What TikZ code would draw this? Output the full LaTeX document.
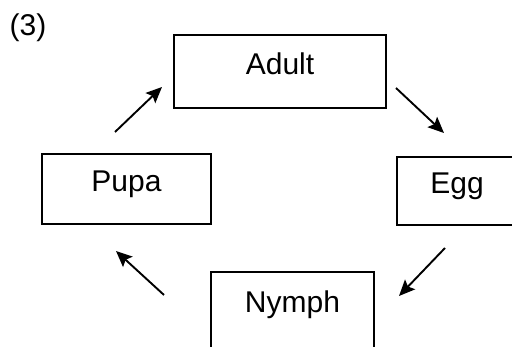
\documentclass[tikz,border=0pt]{standalone}
\usepackage{fontspec}
\setmainfont{Liberation Sans}
\usetikzlibrary{arrows.meta}
\begin{document}
\begin{tikzpicture}[x=1pt,y=-1pt,
  stagebox/.style={draw=black,line width=1.8pt,inner sep=0pt,
    font=\fontsize{30}{34}\selectfont,text height=22pt,text depth=16pt},
  cyclearrow/.style={line width=1.9pt,-{Stealth[length=16pt,width=14pt,inset=3pt]}}]
\useasboundingbox (0,0) rectangle (512,347);
\fill[white] (0,0) rectangle (512,347);
\node[font=\fontsize{30}{34}\selectfont] (label) at (28,28) {(3)};
\node[stagebox,minimum width=212pt,minimum height=73pt] (adult) at (280,71.5) {Adult};
\node[stagebox,minimum width=169pt,minimum height=70pt] (pupa) at (126.5,189) {Pupa};
\node[stagebox,minimum width=120pt,minimum height=68pt] (egg) at (457,191) {Egg};
\node[stagebox,minimum width=163pt,minimum height=76pt] (nymph) at (292.5,310) {Nymph};
\coordinate (pa1) at (115,132); \coordinate (pa2) at (162,87);
\coordinate (ae1) at (396,88);  \coordinate (ae2) at (444,133);
\coordinate (en1) at (445,248); \coordinate (en2) at (399,296);
\coordinate (np1) at (164,295); \coordinate (np2) at (116,251);
\draw[cyclearrow] (pa1) -- (pa2);
\draw[cyclearrow] (ae1) -- (ae2);
\draw[cyclearrow] (en1) -- (en2);
\draw[cyclearrow] (np1) -- (np2);
\end{tikzpicture}
\end{document}
